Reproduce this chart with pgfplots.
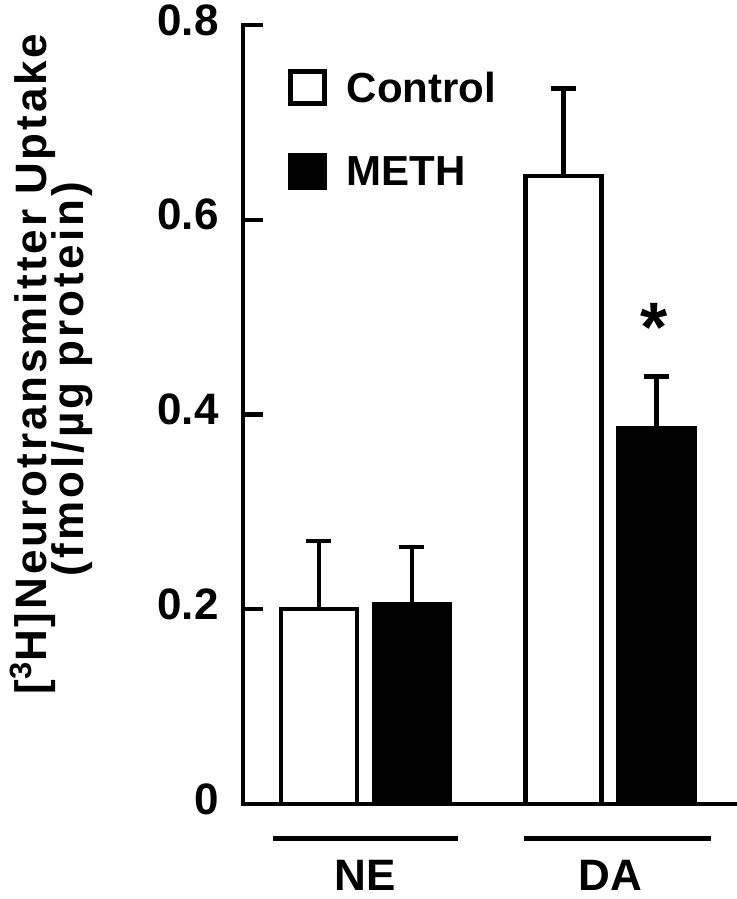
\documentclass[border=0pt]{standalone}
\usepackage{pgfplots}
\pgfplotsset{compat=1.18}
\usepackage{fontspec}
\setmainfont{Liberation Sans}
\begin{document}
\begin{tikzpicture}
\useasboundingbox (-121.5pt,-47.5pt) rectangle (246.5pt,402pt);
\begin{axis}[
  at={(0,0)}, anchor=south west,
  scale only axis,
  width=246pt, height=389.5pt,
  xmin=-0.5, xmax=1.51,
  ymin=0, ymax=0.8,
  axis x line=bottom, axis y line=left,
  axis line style={line width=2.2pt, -, line cap=rect},
  tick align=inside,
  major tick length=10pt,
  ytick={0,0.2,0.4,0.6,0.8},
  yticklabels={0,0.2,0.4,0.6,0.8},
  ytick style={line width=2.2pt, black},
  xtick={0,1},
  xticklabels={NE,DA},
  xtick style={draw=none},
  /pgf/number format/assume math mode=true,
  yticklabel style={font=\fontsize{22}{26}\selectfont\bfseries, inner sep=0pt, anchor=east, xshift=-12pt, yshift=2.5pt},
  xticklabel style={font=\fontsize{22}{26}\selectfont\bfseries, inner sep=0pt, anchor=north, yshift=-28pt},
  clip=false,
  legend style={at={(axis description cs:0,1)}, anchor=north west, xshift=22.5pt, yshift=-22pt,
    draw=none, fill=none, inner sep=0pt, outer sep=0pt, row sep=23.5pt,
    font=\fontsize{21}{25}\selectfont\bfseries, nodes={inner sep=0pt},
    /tikz/every odd column/.append style={column sep=10pt}},
  legend cell align=left,
  legend image code/.code={\draw[#1, line width=2.4pt] (1.2pt,-7.25pt) rectangle (18.3pt,8.75pt);},
]
\addplot[ybar, bar width=38pt, bar shift=-23.25pt, draw=black, fill=white, line width=2.2pt,
  error bars/.cd, y dir=plus, y explicit,
  error bar style={line width=2.2pt, black, xshift=-23.25pt},
  error mark options={line width=2.2pt, mark size=6.25pt, black, rotate=90}]
  coordinates {(0,0.200) +- (0,0.070) (1,0.645) +- (0,0.090)};
\addlegendentry{Control}
\addplot[ybar, bar width=38pt, bar shift=23.25pt, draw=black, fill=black, line width=2.2pt,
  error bars/.cd, y dir=plus, y explicit,
  error bar style={line width=2.2pt, black, xshift=23.25pt},
  error mark options={line width=2.2pt, mark size=6.25pt, black, rotate=90}]
  coordinates {(0,0.205) +- (0,0.059) (1,0.386) +- (0,0.053)};
\addlegendentry{METH}
\addplot[forget plot, only marks, mark=text,
  text mark={\fontsize{35}{40}\selectfont\bfseries *}]
  coordinates {(1.178,0.489)};
\draw[line width=2.5pt] ([yshift=-17.5pt]axis cs:-0.379,0) -- ([yshift=-17.5pt]axis cs:0.377,0);
\draw[line width=2.5pt] ([yshift=-17.5pt]axis cs:0.647,0) -- ([yshift=-17.5pt]axis cs:1.411,0);
\end{axis}
\node[rotate=90, anchor=base, inner sep=0pt, font=\fontsize{22}{26}\selectfont\bfseries\addfontfeature{LetterSpace=6.5}] at (-98pt,220pt) {[\textsuperscript{3}H]Neurotransmitter Uptake};
\node[rotate=90, anchor=base, inner sep=0pt, font=\fontsize{22}{26}\selectfont\bfseries\addfontfeature{LetterSpace=7}] at (-79.5pt,212.5pt) {(fmol/µg protein)};
\end{tikzpicture}
\end{document}
